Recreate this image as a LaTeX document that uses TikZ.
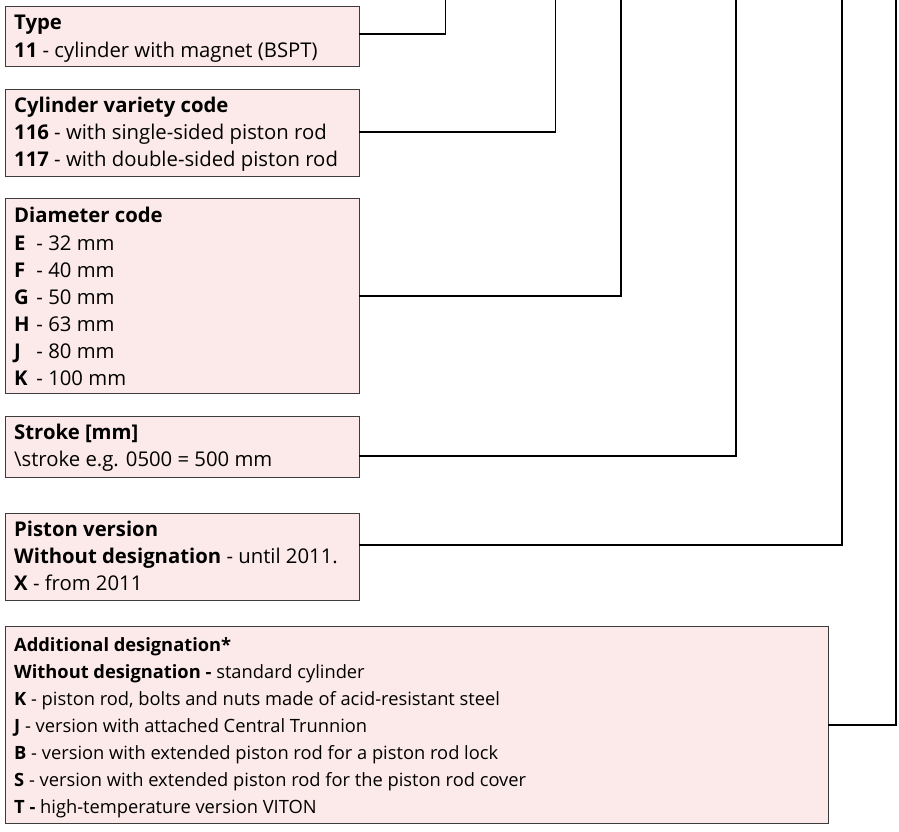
\documentclass[tikz,border=0pt]{standalone}
\usepackage{fontspec}
\setmainfont{Open Sans}
\begin{document}
\begin{tikzpicture}[x=1pt,y=-1pt,
  infobox/.style={draw=boxline,line width=1pt,fill=boxfill,rectangle,inner sep=0pt,anchor=north west},
  txt/.style={anchor=base west,inner sep=0pt,font=\fontsize{20.3}{27}\selectfont,text=black},
  smalltxt/.style={txt,font=\fontsize{18.3}{27}\selectfont},
  conn/.style={draw=black,line width=1.6pt,line cap=rect}]
\definecolor{boxfill}{HTML}{FCE9E9}
\definecolor{boxline}{HTML}{3C3C3C}
\newcommand\dcode[2]{\makebox[17pt][l]{\textbf{#1}} - #2 mm}
\useasboundingbox (0,0) rectangle (899,831);
\fill[white] (0,0) rectangle (899,831);
% boxes
\node[infobox,minimum width=354pt,minimum height=60pt] (b1) at (5,6) {};
\node[infobox,minimum width=354pt,minimum height=87pt] (b2) at (5,89) {};
\node[infobox,minimum width=354pt,minimum height=195pt] (b3) at (5,198) {};
\node[infobox,minimum width=354pt,minimum height=61pt] (b4) at (5,416) {};
\node[infobox,minimum width=354pt,minimum height=87pt] (b5) at (5,513) {};
\node[infobox,minimum width=823pt,minimum height=197pt] (b6) at (5,626) {};
% texts
\node[txt] (t1a) at (14,29.5) {\textbf{Type}};
\node[txt] (t1b) at (14,57) {\textbf{11} - cylinder with magnet (BSPT)};
\node[txt] (t2a) at (14,112.5) {\textbf{Cylinder variety code}};
\node[txt] (t2b) at (14,139.5) {\textbf{116} - with single-sided piston rod};
\node[txt] (t2c) at (14,166.5) {\textbf{117} - with double-sided piston rod};
\node[txt] (t3a) at (14,222.5) {\textbf{Diameter code}};
\node[txt] (t3b) at (14,250.5) {\dcode{E}{32}};
\node[txt] (t3c) at (14,277.5) {\dcode{F}{40}};
\node[txt] (t3d) at (14,304.5) {\dcode{G}{50}};
\node[txt] (t3e) at (14,331.5) {\dcode{H}{63}};
\node[txt] (t3f) at (14,358.5) {\dcode{J}{80}};
\node[txt] (t3g) at (14,385.5) {\dcode{K}{100}};
\node[txt] (t4a) at (14,439.5) {\textbf{Stroke [mm]}};
\node[txt] (t4b) at (14,466.5) {\textbackslash stroke e.g. 0500 = 500 mm};
\node[txt] (t5a) at (14,536.5) {\textbf{Piston version}};
\node[txt] (t5b) at (14,563.5) {\textbf{Without designation} - until 2011.};
\node[txt] (t5c) at (14,590.5) {\textbf{X} - from 2011};
\node[smalltxt] (t6a) at (14,651) {\textbf{Additional designation*}};
\node[smalltxt] (t6b) at (14,678) {\textbf{Without designation -} standard cylinder};
\node[smalltxt] (t6c) at (14,705) {\textbf{K} - piston rod, bolts and nuts made of acid-resistant steel};
\node[smalltxt] (t6d) at (14,732) {\textbf{J} - version with attached Central Trunnion};
\node[smalltxt] (t6e) at (14,759) {\textbf{B} - version with extended piston rod for a piston rod lock};
\node[smalltxt] (t6f) at (14,786) {\textbf{S} - version with extended piston rod for the piston rod cover};
\node[smalltxt] (t6g) at (14,813) {\textbf{T -} high-temperature version VITON};
% connector ends
\coordinate (e1) at (445.5,-2);
\coordinate (e2) at (555.5,-2);
\coordinate (e3) at (621,-2);
\coordinate (e4) at (736,-2);
\coordinate (e5) at (842,-2);
\coordinate (e6) at (896,-2);
\draw[conn] (b1.east |- 0,34) -| (e1);
\draw[conn] (b2.east |- 0,132) -| (e2);
\draw[conn] (b3.east |- 0,296) -| (e3);
\draw[conn] (b4.east |- 0,456) -| (e4);
\draw[conn] (b5.east |- 0,545) -| (e5);
\draw[conn] (b6.east |- 0,725) -| (e6);
\end{tikzpicture}
\end{document}
